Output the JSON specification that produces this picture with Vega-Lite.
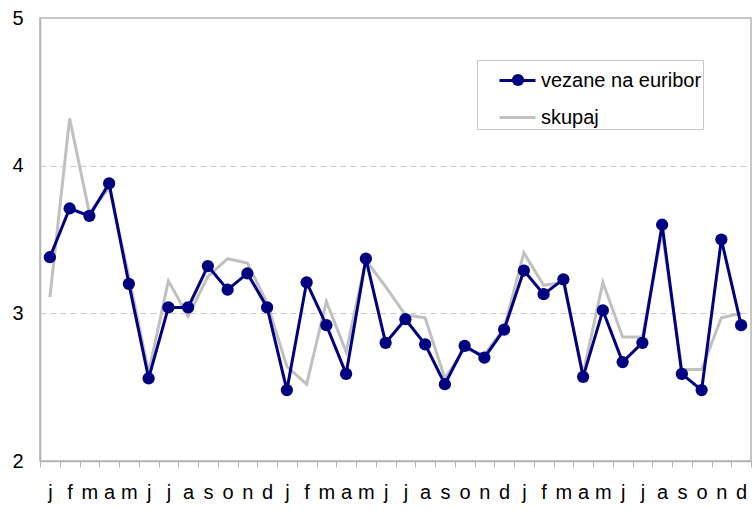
{
  "$schema": "https://vega.github.io/schema/vega-lite/v6.json",
  "width": 711,
  "height": 443,
  "autosize": {"type": "none"},
  "padding": {"left": 40, "top": 18, "right": 1, "bottom": 49},
  "background": "white",
  "config": {
    "view": {"stroke": "#b4b4b4", "strokeWidth": 1.5},
    "font": "Liberation Sans"
  },
  "datasets": {
    "rows": [
      {"i": 0, "s": "vezane na euribor", "v": 3.38}, {"i": 0, "s": "skupaj", "v": 3.11},
      {"i": 1, "s": "vezane na euribor", "v": 3.71}, {"i": 1, "s": "skupaj", "v": 4.32},
      {"i": 2, "s": "vezane na euribor", "v": 3.66}, {"i": 2, "s": "skupaj", "v": 3.68},
      {"i": 3, "s": "vezane na euribor", "v": 3.88}, {"i": 3, "s": "skupaj", "v": 3.85},
      {"i": 4, "s": "vezane na euribor", "v": 3.2}, {"i": 4, "s": "skupaj", "v": 3.25},
      {"i": 5, "s": "vezane na euribor", "v": 2.56}, {"i": 5, "s": "skupaj", "v": 2.6},
      {"i": 6, "s": "vezane na euribor", "v": 3.04}, {"i": 6, "s": "skupaj", "v": 3.22},
      {"i": 7, "s": "vezane na euribor", "v": 3.04}, {"i": 7, "s": "skupaj", "v": 2.98},
      {"i": 8, "s": "vezane na euribor", "v": 3.32}, {"i": 8, "s": "skupaj", "v": 3.25},
      {"i": 9, "s": "vezane na euribor", "v": 3.16}, {"i": 9, "s": "skupaj", "v": 3.37},
      {"i": 10, "s": "vezane na euribor", "v": 3.27}, {"i": 10, "s": "skupaj", "v": 3.34},
      {"i": 11, "s": "vezane na euribor", "v": 3.04}, {"i": 11, "s": "skupaj", "v": 3.07},
      {"i": 12, "s": "vezane na euribor", "v": 2.48}, {"i": 12, "s": "skupaj", "v": 2.64},
      {"i": 13, "s": "vezane na euribor", "v": 3.21}, {"i": 13, "s": "skupaj", "v": 2.52},
      {"i": 14, "s": "vezane na euribor", "v": 2.92}, {"i": 14, "s": "skupaj", "v": 3.08},
      {"i": 15, "s": "vezane na euribor", "v": 2.59}, {"i": 15, "s": "skupaj", "v": 2.74},
      {"i": 16, "s": "vezane na euribor", "v": 3.37}, {"i": 16, "s": "skupaj", "v": 3.36},
      {"i": 17, "s": "vezane na euribor", "v": 2.8}, {"i": 17, "s": "skupaj", "v": 3.18},
      {"i": 18, "s": "vezane na euribor", "v": 2.96}, {"i": 18, "s": "skupaj", "v": 2.99},
      {"i": 19, "s": "vezane na euribor", "v": 2.79}, {"i": 19, "s": "skupaj", "v": 2.97},
      {"i": 20, "s": "vezane na euribor", "v": 2.52}, {"i": 20, "s": "skupaj", "v": 2.56},
      {"i": 21, "s": "vezane na euribor", "v": 2.78}, {"i": 21, "s": "skupaj", "v": 2.76},
      {"i": 22, "s": "vezane na euribor", "v": 2.7}, {"i": 22, "s": "skupaj", "v": 2.72},
      {"i": 23, "s": "vezane na euribor", "v": 2.89}, {"i": 23, "s": "skupaj", "v": 2.9},
      {"i": 24, "s": "vezane na euribor", "v": 3.29}, {"i": 24, "s": "skupaj", "v": 3.41},
      {"i": 25, "s": "vezane na euribor", "v": 3.13}, {"i": 25, "s": "skupaj", "v": 3.19},
      {"i": 26, "s": "vezane na euribor", "v": 3.23}, {"i": 26, "s": "skupaj", "v": 3.21},
      {"i": 27, "s": "vezane na euribor", "v": 2.57}, {"i": 27, "s": "skupaj", "v": 2.59},
      {"i": 28, "s": "vezane na euribor", "v": 3.02}, {"i": 28, "s": "skupaj", "v": 3.21},
      {"i": 29, "s": "vezane na euribor", "v": 2.67}, {"i": 29, "s": "skupaj", "v": 2.84},
      {"i": 30, "s": "vezane na euribor", "v": 2.8}, {"i": 30, "s": "skupaj", "v": 2.84},
      {"i": 31, "s": "vezane na euribor", "v": 3.6}, {"i": 31, "s": "skupaj", "v": 3.55},
      {"i": 32, "s": "vezane na euribor", "v": 2.59}, {"i": 32, "s": "skupaj", "v": 2.62},
      {"i": 33, "s": "vezane na euribor", "v": 2.48}, {"i": 33, "s": "skupaj", "v": 2.62},
      {"i": 34, "s": "vezane na euribor", "v": 3.5}, {"i": 34, "s": "skupaj", "v": 2.97},
      {"i": 35, "s": "vezane na euribor", "v": 2.92}, {"i": 35, "s": "skupaj", "v": 3.0}
    ]
  },
  "data": {"name": "rows"},
  "encoding": {
    "x": {
      "field": "i",
      "type": "ordinal",
      "sort": null,
      "scale": {"type": "band", "paddingInner": 0, "paddingOuter": 0},
      "axis": {
        "title": null,
        "tickBand": "extent",
        "ticks": true,
        "tickSize": 6,
        "tickColor": "#b4b4b4",
        "tickWidth": 1,
        "domainColor": "#b4b4b4",
        "domainWidth": 1.5,
        "labelAngle": 0,
        "labelFont": "Liberation Sans Narrow, Liberation Sans",
        "labelFontSize": 20,
        "labelColor": "#000000",
        "labelBaseline": "top",
        "labelPadding": 15,
        "labelExpr": "split('j,f,m,a,m,j,j,a,s,o,n,d', ',')[datum.value % 12]",
        "grid": false
      }
    },
    "y": {
      "field": "v",
      "type": "quantitative",
      "scale": {"domain": [2, 5], "nice": false, "zero": false},
      "axis": {
        "title": null,
        "values": [2, 3, 4, 5],
        "ticks": false,
        "domainColor": "#b4b4b4",
        "domainWidth": 1.5,
        "labelFont": "Liberation Sans",
        "labelFontSize": 20,
        "labelColor": "#000000",
        "labelPadding": 17,
        "grid": true,
        "gridColor": "#c8c8c8",
        "gridDash": [6, 4],
        "gridWidth": 1
      }
    }
  },
  "layer": [
    {
      "transform": [{"filter": "datum.s === 'skupaj'"}],
      "mark": {"type": "line", "strokeWidth": 3, "color": "#c0c0c0"},
      "encoding": {
        "color": {
          "field": "s",
          "type": "nominal",
          "scale": {"domain": ["vezane na euribor", "skupaj"], "range": ["#000080", "#c0c0c0"]},
          "legend": {
            "title": null,
            "orient": "none",
            "legendX": 437,
            "legendY": 42,
            "symbolType": "stroke",
            "symbolSize": 1296,
            "symbolStrokeWidth": 3,
            "labelFont": "Liberation Sans",
            "labelFontSize": 20,
            "labelColor": "#000000",
            "labelOffset": 4,
            "labelLimit": 400,
            "labelExpr": "datum.label + '\u00a0\u00a0\u00a0\u00a0\u00a0\u00a0'",
            "padding": 1,
            "symbolOffset": 20,
            "rowPadding": 7,
            "strokeColor": "#c8c8c8",
            "fillColor": "white"
          }
        }
      }
    },
    {
      "transform": [{"filter": "datum.s === 'vezane na euribor'"}],
      "mark": {"type": "line", "strokeWidth": 3},
      "encoding": {
        "color": {"field": "s", "type": "nominal"}
      }
    },
    {
      "transform": [{"filter": "datum.s === 'vezane na euribor'"}],
      "mark": {"type": "point", "filled": true, "size": 150, "opacity": 1, "strokeWidth": 0},
      "encoding": {
        "fill": {
          "field": "s",
          "type": "nominal",
          "scale": {"domain": ["vezane na euribor"], "range": ["#000080"]},
          "legend": {
            "title": null,
            "orient": "none",
            "legendX": 468,
            "legendY": 52,
            "symbolType": "circle",
            "symbolSize": 150,
            "symbolOpacity": 1,
            "labelExpr": "''",
            "labelFontSize": 20,
            "padding": 0,
            "symbolOffset": 0
          }
        }
      }
    }
  ]
}
